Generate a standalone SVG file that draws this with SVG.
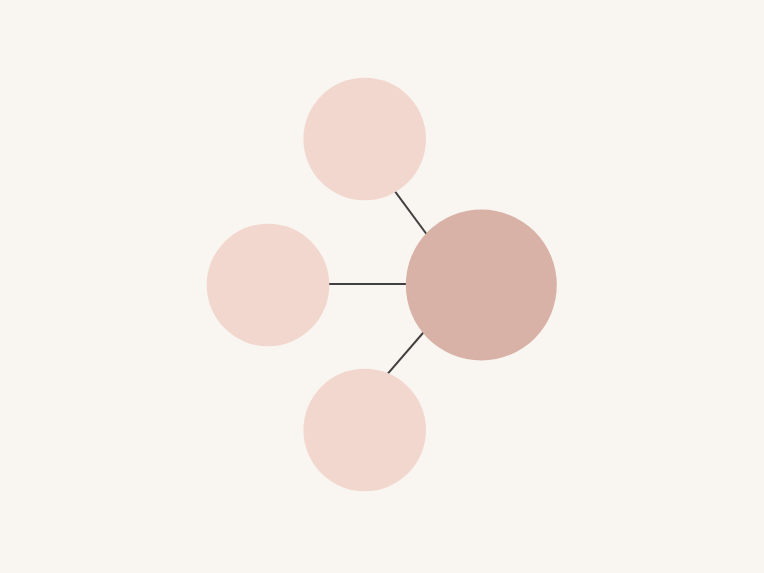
<svg xmlns="http://www.w3.org/2000/svg" width="764" height="573" viewBox="0 0 764 573">
<style>
.edge{stroke:#404040;stroke-width:2;fill:none}
.leaf{fill:#f2d7cf}
.hub{fill:#d8b2a7}
</style>
<rect width="764" height="573" fill="#f9f5f0"/>
<g id="connectors">
<line class="edge" x1="390" y1="184.6" x2="432" y2="241.5"/>
<line class="edge" x1="320" y1="284" x2="416" y2="284"/>
<line class="edge" x1="382" y1="380.4" x2="429" y2="326"/>
</g>
<g id="node-top"><circle class="leaf" cx="364.7" cy="139" r="61.3"/></g>
<g id="node-left"><circle class="leaf" cx="268" cy="285" r="61.3"/></g>
<g id="node-bottom"><circle class="leaf" cx="364.7" cy="430" r="61.3"/></g>
<g id="node-hub"><circle class="hub" cx="481.3" cy="285" r="75.5"/></g>
</svg>
